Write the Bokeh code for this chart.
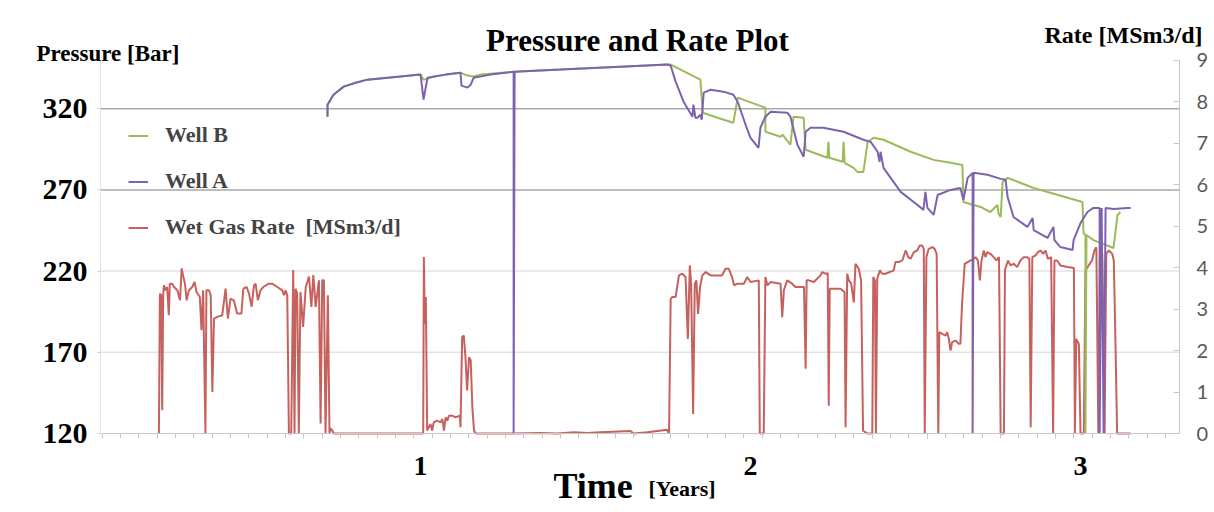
from bokeh.plotting import figure
from bokeh.models import Range1d, LinearAxis, FixedTicker, Legend, LegendItem, Label
from bokeh.embed import file_html
from bokeh.resources import INLINE
import numpy as np

# ---------------- data ----------------
# Well A pressure [bar] vs time [years]
well_a_t = [0.718, 0.718, 0.736, 0.767, 0.803, 0.839, 0.939, 1.000, 1.009, 1.021, 1.076, 1.121, 1.124,
            1.142, 1.152, 1.161, 1.212, 1.282, 1.282, 1.285, 1.424, 1.606, 1.748, 1.758, 1.773, 1.797,
            1.824, 1.827, 1.833, 1.839, 1.848, 1.852, 1.858, 1.879, 1.918, 1.948, 1.961, 1.985, 2.000,
            2.024, 2.030, 2.045, 2.061, 2.112, 2.121, 2.142, 2.161, 2.167, 2.182, 2.221, 2.282, 2.342,
            2.364, 2.385, 2.391, 2.394, 2.403, 2.455, 2.506, 2.524, 2.530, 2.536, 2.555, 2.567, 2.606,
            2.636, 2.645, 2.658, 2.673, 2.673, 2.676, 2.718, 2.758, 2.773, 2.779, 2.797, 2.839, 2.855,
            2.858, 2.900, 2.918, 2.921, 2.939, 2.976, 2.979, 3.000, 3.021, 3.039, 3.058, 3.058, 3.064,
            3.070, 3.076, 3.100, 3.142, 3.152]
well_a_p = [315.1, 322.5, 328.6, 333.6, 336.0, 337.9, 339.8, 341.0, 325.6, 339.1, 341.0, 342.2, 334.2,
            333.0, 334.8, 339.1, 341.0, 342.8, 120.0, 342.8, 344.1, 345.9, 347.2, 346.5, 336.7, 324.3,
            315.1, 322.5, 314.4, 314.4, 316.3, 313.2, 329.9, 331.7, 330.5, 328.6, 324.3, 310.1, 302.1,
            295.9, 308.3, 315.1, 318.1, 317.5, 315.1, 297.8, 290.4, 305.8, 308.3, 308.3, 305.8, 300.9,
            299.6, 293.5, 287.3, 293.5, 283.6, 268.8, 260.7, 257.7, 268.8, 258.9, 254.6, 266.9, 270.0,
            271.2, 263.8, 277.4, 280.5, 120.0, 280.5, 279.3, 276.8, 276.2, 265.7, 253.3, 247.2, 252.7,
            245.3, 240.4, 247.2, 239.1, 234.8, 233.0, 239.1, 249.6, 256.4, 258.9, 258.9, 120.0, 258.9,
            120.0, 258.9, 258.3, 258.9, 258.9]

# Well B pressure [bar] vs time [years]
well_b_t = [0.718, 0.718, 0.736, 0.767, 0.803, 0.839, 0.939, 1.000, 1.009, 1.021, 1.039, 1.076, 1.121,
            1.142, 1.161, 1.182, 1.212, 1.282, 1.424, 1.606, 1.748, 1.758, 1.848, 1.855, 1.900, 1.948,
            1.961, 2.045, 2.045, 2.091, 2.097, 2.121, 2.130, 2.161, 2.167, 2.233, 2.236, 2.239, 2.279,
            2.282, 2.285, 2.312, 2.324, 2.342, 2.355, 2.373, 2.403, 2.485, 2.555, 2.606, 2.642, 2.645,
            2.697, 2.727, 2.748, 2.752, 2.758, 2.764, 2.779, 2.858, 3.006, 3.009, 3.015, 3.015, 3.018,
            3.039, 3.100, 3.112, 3.121]
well_b_p = [315.1, 322.5, 328.6, 333.6, 336.0, 337.9, 339.8, 341.0, 337.9, 338.5, 339.8, 341.0, 342.2,
            340.4, 339.8, 341.0, 341.6, 342.8, 344.1, 345.9, 347.2, 347.2, 337.9, 317.5, 314.4, 311.4,
            326.8, 320.6, 305.8, 302.7, 304.0, 297.8, 315.1, 314.4, 294.7, 289.8, 299.6, 289.8, 287.3,
            299.6, 286.7, 283.6, 281.1, 281.1, 299.6, 302.1, 300.9, 293.5, 288.5, 286.7, 285.4, 262.6,
            259.5, 256.4, 260.7, 255.2, 253.3, 274.9, 277.4, 271.2, 262.6, 243.5, 242.2, 120.0, 242.2,
            239.1, 234.2, 254.6, 256.4]

# Wet gas rate [MSm3/d] vs time [years]
rate_t = [0.207, 0.210, 0.214, 0.217, 0.220, 0.222, 0.227, 0.232, 0.237, 0.240, 0.247, 0.253, 0.263,
          0.271, 0.276, 0.281, 0.286, 0.291, 0.298, 0.308, 0.315, 0.321, 0.331, 0.336, 0.341, 0.348,
          0.351, 0.359, 0.364, 0.369, 0.374, 0.384, 0.399, 0.409, 0.416, 0.424, 0.434, 0.444, 0.457,
          0.463, 0.473, 0.480, 0.488, 0.495, 0.500, 0.507, 0.515, 0.523, 0.540, 0.550, 0.566, 0.581,
          0.586, 0.591, 0.596, 0.601, 0.608, 0.614, 0.618, 0.621, 0.626, 0.631, 0.636, 0.644, 0.652,
          0.662, 0.669, 0.675, 0.682, 0.692, 0.697, 0.702, 0.707, 0.712, 0.719, 0.724, 0.727, 0.732,
          0.737,
          1.008, 1.010, 1.013, 1.016, 1.020, 1.025, 1.030, 1.035, 1.040, 1.050, 1.061, 1.066, 1.071,
          1.076, 1.081, 1.086, 1.096, 1.106, 1.119, 1.121, 1.126, 1.131, 1.136, 1.141, 1.147, 1.152,
          1.157, 1.162, 1.167, 1.278, 1.364, 1.414, 1.465, 1.505, 1.545, 1.636, 1.646, 1.687, 1.747,
          1.753, 1.758, 1.763, 1.773, 1.783, 1.793, 1.803, 1.810, 1.816, 1.820, 1.826, 1.831, 1.836,
          1.841, 1.847, 1.854, 1.864, 1.879, 1.914, 1.924, 1.934, 1.944, 1.950, 1.960, 1.980, 1.990,
          2.000, 2.025, 2.028, 2.040, 2.045, 2.051, 2.061, 2.091, 2.096, 2.101, 2.111, 2.126, 2.136,
          2.162, 2.167, 2.170, 2.177, 2.192, 2.212,
          2.217, 2.227, 2.234, 2.237, 2.240, 2.253, 2.273, 2.278, 2.285, 2.288, 2.293, 2.298, 2.305,
          2.313, 2.318, 2.328, 2.335, 2.341, 2.354, 2.369, 2.372, 2.377, 2.380, 2.384, 2.392, 2.399,
          2.409, 2.434, 2.439, 2.449, 2.460, 2.465, 2.470, 2.478, 2.485, 2.495, 2.505, 2.513, 2.520,
          2.525, 2.528, 2.533, 2.540, 2.551, 2.558, 2.564, 2.569,
          2.572, 2.581, 2.591, 2.596, 2.601, 2.606, 2.611, 2.621, 2.631, 2.636, 2.641, 2.649, 2.667,
          2.677, 2.682, 2.689, 2.695, 2.700, 2.707, 2.712, 2.717, 2.727, 2.737, 2.745, 2.753, 2.758,
          2.768, 2.771, 2.780, 2.788, 2.798, 2.808, 2.818, 2.828, 2.838, 2.845, 2.849, 2.854, 2.864,
          2.871, 2.879, 2.887, 2.894, 2.901, 2.911, 2.917, 2.921, 2.929, 2.939, 2.960, 2.980, 2.983,
          2.987, 2.995, 3.000, 3.010, 3.015, 3.025, 3.035, 3.042, 3.048, 3.054, 3.059, 3.066, 3.073,
          3.078, 3.086, 3.096, 3.101, 3.106, 3.111, 3.152]
rate_v = [0.00, 3.37, 3.33, 0.56, 3.33, 3.57, 3.45, 3.53, 2.85, 3.61, 3.61, 3.53, 3.45,
          3.21, 3.98, 3.78, 3.61, 3.21, 3.45, 3.53, 3.65, 3.41, 3.29, 2.49, 3.45, 0.00,
          3.45, 3.45, 3.33, 1.00, 2.77, 2.81, 2.85, 3.49, 2.77, 3.25, 3.21, 2.89, 2.89,
          3.49, 3.53, 3.37, 3.05, 3.57, 3.61, 3.21, 3.45, 3.53, 3.61, 3.61, 3.53, 3.45,
          3.33, 3.45, 3.33, 0.00, 0.00, 3.94, 0.00, 3.49, 3.37, 0.00, 3.41, 2.57, 3.53,
          3.78, 3.05, 3.82, 3.05, 3.69, 0.24, 3.69, 3.69, 0.00, 3.33, 0.00, 0.12, 0.08,
          0.00,
          0.00, 4.25, 2.64, 3.29, 0.07, 0.15, 0.23, 0.07, 0.27, 0.31, 0.27, 0.35, 0.07,
          0.39, 0.31, 0.43, 0.43, 0.39, 0.43, 0.15, 2.32, 2.36, 1.84, 1.04, 1.84, 1.76,
          0.63, 0.07, 0.00, 0.00, 0.01, 0.00, 0.03, 0.01, 0.03, 0.06, 0.00, 0.03, 0.09,
          0.00, 3.24, 3.29, 3.29, 3.81, 3.85, 3.77, 2.28, 4.05, 3.61, 0.47, 3.61, 3.69,
          2.88, 3.53, 3.81, 3.89, 3.81, 3.81, 3.97, 3.97, 3.77, 3.57, 3.61, 3.61, 3.77,
          3.65, 3.69, 0.00, 0.00, 3.77, 3.57, 3.65, 3.61, 2.80, 3.45, 3.69, 3.61, 3.53,
          3.53, 1.56, 3.69, 3.69, 3.65, 3.81,
          3.89, 3.85, 3.86, 0.67, 3.49, 3.49, 3.49, 3.45, 3.41, 0.15, 3.85, 3.69, 3.61,
          3.16, 4.09, 3.97, 3.69, 0.07, 0.00, 0.00, 3.77, 3.69, 0.00, 3.73, 3.93, 3.85,
          3.85, 3.93, 4.13, 4.13, 4.17, 4.29, 4.41, 4.25, 4.21, 4.37, 4.41, 4.53, 4.53,
          4.45, 0.00, 4.25, 4.45, 4.49, 4.45, 4.33, 0.00,
          2.44, 2.40, 2.36, 2.44, 2.28, 2.00, 2.20, 2.24, 2.16, 2.16, 3.12, 4.09, 4.17,
          4.21, 4.25, 4.17, 3.69, 4.17, 4.41, 4.25, 4.37, 4.33, 4.25, 4.17, 4.25, 0.00,
          0.00, 3.93, 4.17, 4.05, 4.09, 4.01, 4.17, 4.25, 4.25, 4.21, 0.15, 4.25, 4.29,
          4.37, 4.41, 4.33, 4.41, 4.21, 4.25, 0.00, 4.17, 4.17, 4.05, 4.01, 3.99, 0.00,
          2.28, 2.16, 0.00, 0.00, 3.93, 4.05, 4.17, 4.41, 4.49, 0.00, 4.41, 4.33, 0.00,
          4.33, 4.41, 4.33, 4.17, 2.16, 0.00, 0.00]

pressure_ticks = [120, 170, 220, 270, 320]
rate_ticks = [0, 1, 2, 3, 4, 5, 6, 7, 8, 9]
year_ticks = [1, 2, 3]

# ---------------- layout constants ----------------
W, H = 1214, 512
# plot area inside the canvas (px from canvas left / top)
PL, PR, PT, PB = 100, 1179, 59.5, 433
T0, T1 = 0.03, 3.30          # time axis extent
P0, P1 = 120, 350            # pressure axis extent
R0, R1 = 0, 9                # rate axis extent


def ext(v0, v1, a0, a1, total):
    s = (v1 - v0) / (a1 - a0)
    return v0 - a0 * s, v1 + (total - a1) * s


xr = ext(T0, T1, PL, PR, W)
pr = ext(P0, P1, H - PB, H - PT, H)
rr = ext(R0, R1, H - PB, H - PT, H)

SERIF = "Liberation Serif"
p = figure(width=W, height=H, output_backend="svg", toolbar_location=None,
           x_range=Range1d(*xr), y_range=Range1d(*pr),
           x_axis_location=None, y_axis_location=None,
           min_border_left=0, min_border_right=0, min_border_top=0, min_border_bottom=0)
p.outline_line_color = None
p.background_fill_color = "white"
p.border_fill_color = "white"
p.extra_y_ranges = {"rate": Range1d(*rr)}
p.xgrid.visible = False
p.ygrid.visible = False

# horizontal grid lines limited to the plot area
light = [t for t in pressure_ticks if t in (170, 220)]
dark = [t for t in pressure_ticks if t in (270, 320)]
p.segment(x0=[T0] * len(light), x1=[T1] * len(light), y0=light, y1=light,
          line_color="#e3e3e3", line_width=1.5)
p.segment(x0=[T0] * len(dark), x1=[T1] * len(dark), y0=dark, y1=dark,
          line_color="#a9a9a9", line_width=1.5)

# left axis
ya = LinearAxis(ticker=FixedTicker(ticks=pressure_ticks), fixed_location=T0, bounds=(P0, P1))
ya.major_label_text_font = SERIF
ya.major_label_text_font_style = "bold"
ya.major_label_text_font_size = "30px"
ya.major_label_text_color = "black"
ya.axis_line_color = "#e3e3e3"
ya.major_tick_line_color = "#d0d0d0"
ya.major_tick_out = 3
ya.major_tick_in = 0
ya.minor_tick_line_color = None
ya.major_label_standoff = 10
p.add_layout(ya, "left")

# right axis
ra = LinearAxis(y_range_name="rate", ticker=FixedTicker(ticks=rate_ticks), fixed_location=T1,
                bounds=(R0, R1))
ra.major_label_text_font = "Lato"
ra.major_label_text_font_size = "20px"
ra.major_label_text_color = "#595959"
ra.axis_line_color = "#c8c8c8"
ra.major_tick_line_color = "#c8c8c8"
ra.major_tick_in = 6
ra.major_tick_out = 0
ra.minor_tick_line_color = None
ra.major_label_standoff = 17
p.add_layout(ra, "right")

# bottom axis
minor = list(np.arange(0.0355, T1, 1.0 / 18.0))
xa = LinearAxis(ticker=FixedTicker(ticks=year_ticks, minor_ticks=minor), fixed_location=P0,
                bounds=(T0, T1))
xa.major_label_text_font = SERIF
xa.major_label_text_font_style = "bold"
xa.major_label_text_font_size = "28px"
xa.major_label_text_color = "black"
xa.axis_line_color = "#c8c8c8"
xa.major_tick_line_color = None
xa.major_tick_out = 0
xa.major_tick_in = 0
xa.minor_tick_line_color = "#c8c8c8"
xa.minor_tick_out = 5
xa.minor_tick_in = 0
xa.major_label_standoff = 18
p.add_layout(xa, "below")

# series
r_rate = p.line(rate_t, rate_v, y_range_name="rate", line_color="#C0504D", line_width=2, line_alpha=0.9)
r_b = p.line(well_b_t, well_b_p, line_color="#9BBB59", line_width=2)
r_a = p.line(well_a_t, well_a_p, line_color="#7E62B0", line_width=2)

legend = Legend(items=[LegendItem(label="Well B", renderers=[r_b]),
                       LegendItem(label="Well A", renderers=[r_a]),
                       LegendItem(label="Wet Gas Rate  [MSm3/d]", renderers=[r_rate])],
                location=(128, 272), label_text_font=SERIF, label_text_font_style="bold",
                label_text_font_size="22px", glyph_width=20, glyph_height=25, label_height=25,
                spacing=20, padding=0, margin=0, border_line_color=None,
                background_fill_alpha=0, label_standoff=17)
p.add_layout(legend, "center")


def lab(text, x, y, size, align="left", baseline="middle", font=SERIF, style="bold", color="black"):
    p.add_layout(Label(x=x, y=y, x_units="screen", y_units="screen", text=text,
                       text_align=align, text_baseline=baseline, text_font=font,
                       text_font_style=style, text_font_size=size, text_color=color))


lab("Pressure and Rate Plot", 637, 472, "31px", align="center")
lab("Pressure [Bar]", 36, 459, "23px")
lab("Rate [MSm3/d]", 1202, 478, "24px", align="right")
lab("Time", 553, 27, "36px")
lab("[Years]", 648, 24, "22px")

open("out.html", "w").write(file_html(p, INLINE))
